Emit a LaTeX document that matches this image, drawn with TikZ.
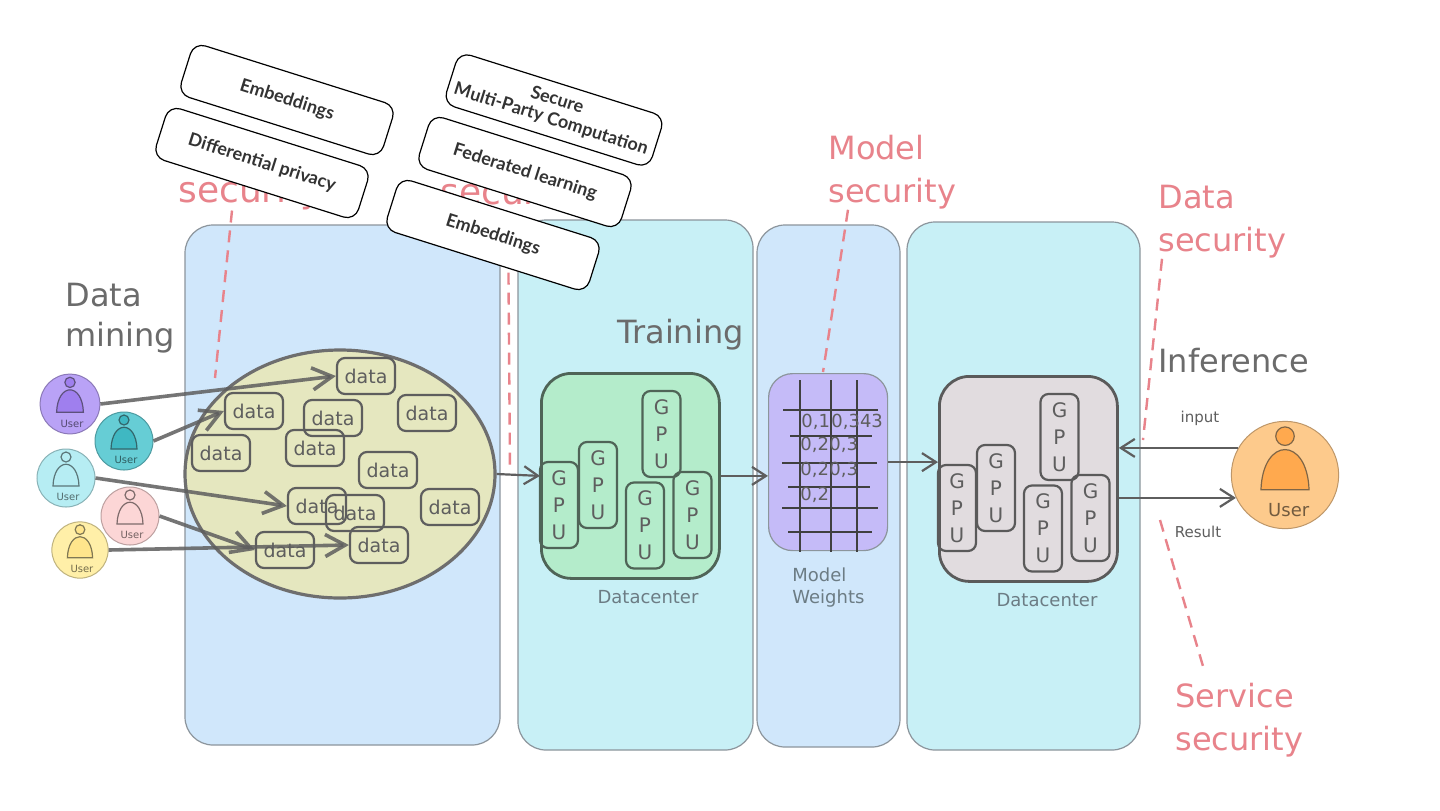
\documentclass[tikz,border=0pt]{standalone}
\usepackage{fontspec}
\setmainfont{DejaVu Sans}
\newfontfamily\boxfont{Lato}
\usetikzlibrary{shapes.geometric,arrows.meta}

\definecolor{panelblue}{HTML}{D0E7FB}
\definecolor{panelcyan}{HTML}{C8F0F6}
\definecolor{panelline}{HTML}{8C959C}
\definecolor{poolfill}{HTML}{E5E7BF}
\definecolor{inkgray}{HTML}{5E5E5E}
\definecolor{labelgray}{HTML}{6B6B6B}
\definecolor{secred}{HTML}{E8838B}
\definecolor{dcgreen}{HTML}{B4ECCB}
\definecolor{gpugreen}{HTML}{4F6457}
\definecolor{dcgray}{HTML}{E1DCDF}
\definecolor{gpugray}{HTML}{5A5A5A}
\definecolor{wtsfill}{HTML}{C5BBF8}
\definecolor{captiongray}{HTML}{6C7C84}
\definecolor{usrpurple}{HTML}{B9A2F6}
\definecolor{usrpurpled}{HTML}{9F7FEE}
\definecolor{usrteal}{HTML}{66CDD5}
\definecolor{usrteald}{HTML}{3FB8C2}
\definecolor{usrcyan}{HTML}{B6EDF3}
\definecolor{usrpink}{HTML}{FCD6D6}
\definecolor{usryellow}{HTML}{FFEFA8}
\definecolor{usryellowd}{HTML}{FFE58C}
\definecolor{usrorange}{HTML}{FDCA8C}
\definecolor{usroranged}{HTML}{FFA94E}

\tikzset{
  panel/.style={draw=panelline, line width=0.6pt, rounded corners=14pt},
  pool/.style={ellipse, draw=inkgray!90, fill=poolfill, line width=1.6pt, minimum width=155pt, minimum height=124pt, inner sep=0pt},
  databox/.style={draw=inkgray, line width=1.1pt, rounded corners=4pt, minimum width=29pt, minimum height=18pt, inner sep=0pt, text=inkgray, font=\fontsize{9.5}{11}\selectfont},
  gpubox/.style={draw=#1, line width=1.1pt, rounded corners=4pt, minimum width=19pt, minimum height=43pt, inner sep=0pt, align=center, text=inkgray, font=\fontsize{10}{13.5}\selectfont},
  dcbox/.style={draw=#1, line width=1.4pt, rounded corners=15pt, minimum width=89pt, minimum height=102.5pt, anchor=north west},
  usr/.style={circle, draw=#1!75!black, fill=#1, line width=0.5pt, inner sep=0pt},
  techbox/.style={draw=black, fill=white, line width=0.6pt, rounded corners=6pt, minimum width=106pt, minimum height=27pt, rotate=-17.5, align=center, text=black!80, font=\boxfont\bfseries\fontsize{9}{10}\selectfont},
  hand/.style={text=labelgray, align=left, inner sep=0pt, font=\fontsize{16}{20}\selectfont},
  sec/.style={text=secred, align=left, inner sep=0pt, anchor=north west, font=\fontsize{16}{21.5}\selectfont},
  hidsec/.style={sec, font=\fontsize{18}{21.5}\selectfont},
  secline/.style={draw=secred, line width=1.2pt, dash pattern=on 6pt off 4pt},
  flow/.style={draw=inkgray, line width=1.1pt, -{Straight Barb[length=7pt,width=9pt]}},
  feed/.style={draw=inkgray, opacity=0.85, line width=1.8pt, -{Straight Barb[length=10pt,width=11pt]}},
  dctext/.style={text=captiongray, inner sep=0pt, align=left, font=\fontsize{9}{11}\selectfont},
  wval/.style={text=inkgray, anchor=west, inner sep=0pt, font=\fontsize{9}{10}\selectfont},
  gridline/.style={draw=black!75, line width=0.6pt}
}

\begin{document}
\begin{tikzpicture}[x=0.5pt,y=-0.5pt]
% background
\fill[white] (0,0) rectangle (1440,810);

% stage panels
\draw[panel, fill=panelblue] (185,225) rectangle (500,745);
\draw[panel, fill=panelcyan] (518,220) rectangle (753,750);
\draw[panel, fill=panelblue] (757,225) rectangle (900,747);
\draw[panel, fill=panelcyan] (907,222) rectangle (1140,750);

% security labels (the first two sit behind the technique boxes)
\node[hidsec] (dsec1) at (178,133) {Data\\security};
\node[hidsec] (dsec2) at (440,135) {Data\\security};
\node[sec] (msec) at (828,135) {Model\\security};
\node[sec] (dsec3) at (1158,185) {Data\\security};
\node[sec] (ssec) at (1175,683) {Service\\security};
\coordinate (dl1) at (215,378);
\coordinate (dl2) at (510,472);
\coordinate (dl3) at (823,372);
\coordinate (dl4) at (1143,440);
\coordinate (dl5) at (1160,520);
\draw[secline] ([xshift=27pt]dsec1.south west) -- (dl1);
\draw[secline] ([xshift=34pt]dsec2.south west) -- (dl2);
\draw[secline] ([xshift=10pt]msec.south west) -- (dl3);
\draw[secline] ([xshift=2pt]dsec3.south west) -- (dl4);
\draw[secline] (dl5) -- ([xshift=15pt,yshift=5pt]ssec.north west);

% stage titles
\node[hand, anchor=north west] (mining) at (65,283) {Data\\mining};
\node[hand, anchor=base west] (training) at (617,343) {Training};
\node[hand, anchor=base west] (inference) at (1158,372) {Inference};

% data pool
\node[pool] (pool) at (340,474) {};
\foreach \i/\x/\y in {1/366/376, 2/254/411, 3/333/418, 4/427/413, 5/221/453, 6/315/448,
                      7/388/470, 8/317/506, 9/355/513, 10/450/507, 11/285/550, 12/379/545}{
	\node[databox] (d\i) at (\x,\y) {data};
}

% users
\foreach \n/\x/\y/\s/\fs/\cf/\pf in {1/70/404/1.03/5/usrpurple/usrpurpled, 2/124/441/1/5/usrteal/usrteald,
                                     3/66/478/1/5/usrcyan/usrcyan, 4/130/516/1/5/usrpink/usrpink,
                                     5/80/550/0.97/5/usryellow/usryellowd, o/1285/475/1.85/9/usrorange/usroranged}{
	\node[usr=\cf, minimum size={29pt*\s}] (u\n) at (\x,\y) {};
	\draw[draw=\cf!50!black, fill=\pf, line width=0.6pt] (\x,\y-21*\s) circle[radius=5*\s];
	\draw[draw=\cf!50!black, fill=\pf, line width=0.6pt] (\x-13*\s,\y+8*\s) .. controls (\x-12*\s,\y-21*\s) and (\x+12*\s,\y-21*\s) .. (\x+13*\s,\y+8*\s) -- cycle;
	\node[text=\cf!45!black, inner sep=0pt, font=\fontsize{\fs}{\fs}\selectfont] (ut\n) at (\x+2*\s,\y+19*\s) {User};
}
\draw[feed] (u1.east) -- (d1.west);
\draw[feed] (u2.east) -- (d2.west);
\draw[feed] (u3.east) -- (d8.west);
\draw[feed] (u4.east) -- (d11.west);
\draw[feed] (u5.east) -- (d12.west);

% datacenters
\node[dcbox=gpugreen, fill=dcgreen] (dc1) at (540,372) {};
\node[dcbox=gpugray, fill=dcgray] (dc2) at (938,375) {};
\foreach \i/\dx/\dy in {a/19/133, b/58/113, c/121.5/62, d/105/153.5, e/152.5/143}{
	\node[gpubox=gpugreen] (gt\i) at (540+\dx,372+\dy) {G\\P\\U};
	\node[gpubox=gpugray] (gi\i) at (938+\dx,375+\dy) {G\\P\\U};
}
\node[dctext] (dctxt1) at (648,597) {Datacenter};
\node[dctext] (dctxt2) at (1047,600) {Datacenter};

% model weights
\node[draw=panelline, fill=wtsfill, line width=0.6pt, rounded corners=12pt, minimum width=59.5pt, minimum height=88.5pt, anchor=north west] (wts) at (768,373) {};
\foreach \x in {800,831,857}{
	\draw[gridline] (\x,380) -- (\x,552);
}
\foreach \y/\a/\b in {410/783/878, 436/790/872, 463/782/877, 487/788/870, 508/782/878, 532/788/872}{
	\draw[gridline] (\a,\y) -- (\b,\y);
}
\foreach \x/\y/\v [count=\k] in {801/422/{0,1}, 831/422/{0,343}, 800/445/{0,2}, 829/445/{0,3},
                                  800/470/{0,2}, 829/470/{0,3}, 800/495/{0,2}}{
	\node[wval] (w\k) at (\x,\y) {\v};
}
\node[dctext, anchor=north west] (wtstxt) at (792,567) {Model\\Weights};

% flow between stages
\draw[flow] (pool.east) -- (dc1.west);
\draw[flow] (dc1.east) -- (dc1.east -| wts.west);
\draw[flow] (wts.east) -- (wts.east -| dc2.west);
\draw[flow] (uo.150) -- (uo.150 -| dc2.east);
\draw[flow] (uo.205 -| dc2.east) -- (uo.205);
\node[dctext, font=\fontsize{7.5}{9}\selectfont, text=inkgray] (inlbl) at (1200,418) {input};
\node[dctext, font=\fontsize{7.5}{9}\selectfont, text=inkgray] (reslbl) at (1198,532) {Result};

% privacy techniques
\node[techbox] (pe1) at (287,100) {Embeddings};
\node[techbox] (pdp) at (262,163) {Differential privacy};
\node[techbox] (pmpc) at (554,110) {Secure\\Multi-Party Computation};
\node[techbox] (pfl) at (525,172) {Federated learning};
\node[techbox] (pe2) at (493,235) {Embeddings};
\end{tikzpicture}
\end{document}
